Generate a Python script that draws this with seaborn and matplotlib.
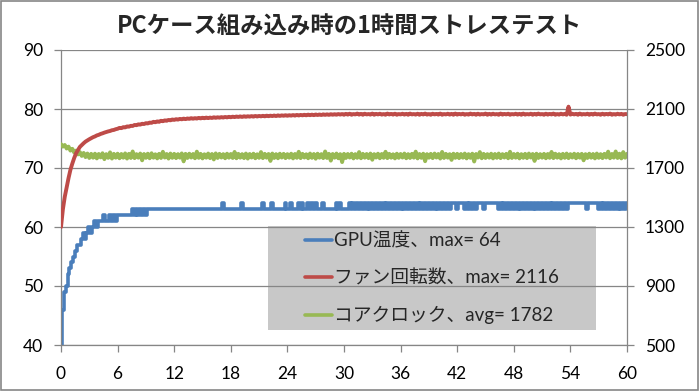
"""PCケース組み込み時の1時間ストレステスト: GPU温度 / ファン回転数 / コアクロック."""
import matplotlib

matplotlib.use("Agg")
import matplotlib.pyplot as plt
import numpy as np
import seaborn as sns
from matplotlib.lines import Line2D
from matplotlib.patches import Rectangle

TITLE = "PCケース組み込み時の1時間ストレステスト"
SAMPLE_MIN = 0.2  # サンプリング間隔 (分)

X_TICKS = list(range(0, 61, 6))
LEFT_TICKS = [40, 50, 60, 70, 80, 90]
RIGHT_TICKS = [500, 900, 1300, 1700, 2100, 2500]

LABELS = ["GPU温度、max= 64", "ファン回転数、max= 2116", "コアクロック、avg= 1782"]
COLORS = ["#4A7EBB", "#BE4B48", "#98B954"]

# GPU温度 (℃) — 1行 = 6分
gpu_temp = [
    40, 46, 49, 50, 52, 53, 54, 55, 56, 57, 57, 58, 59, 58, 59, 60, 59, 60, 61, 60, 61, 61, 61, 62, 61, 61, 62, 61, 62, 61,
    62, 62, 62, 62, 62, 62, 62, 62, 63, 62, 63, 62, 63, 62, 63, 62, 63, 63, 63, 63, 63, 63, 63, 63, 63, 63, 63, 63, 63, 63,
    63, 63, 63, 63, 63, 63, 63, 63, 63, 63, 63, 63, 63, 63, 63, 63, 63, 63, 63, 63, 63, 63, 63, 63, 63, 63, 64, 63, 63, 63,
    63, 63, 63, 63, 63, 63, 64, 63, 63, 63, 63, 63, 63, 63, 63, 63, 63, 64, 63, 63, 63, 63, 64, 63, 63, 63, 63, 63, 63, 64,
    63, 63, 64, 63, 63, 63, 64, 63, 64, 63, 63, 64, 63, 64, 63, 64, 63, 63, 63, 64, 63, 63, 63, 63, 63, 63, 64, 63, 64, 63,
    63, 63, 63, 64, 63, 64, 63, 64, 63, 64, 63, 64, 63, 64, 63, 64, 63, 64, 63, 64, 63, 64, 63, 64, 63, 64, 63, 64, 63, 64,
    63, 64, 63, 64, 63, 64, 63, 64, 63, 64, 63, 64, 63, 64, 63, 64, 63, 64, 63, 64, 63, 64, 63, 64, 63, 64, 63, 64, 64, 64,
    63, 64, 64, 64, 63, 64, 63, 64, 63, 64, 63, 64, 64, 64, 63, 64, 64, 64, 64, 64, 64, 64, 63, 64, 63, 64, 63, 64, 63, 64,
    63, 64, 63, 64, 63, 64, 63, 64, 63, 64, 63, 64, 63, 64, 63, 64, 63, 64, 63, 64, 63, 64, 63, 64, 63, 64, 63, 64, 63, 64,
    64, 64, 64, 64, 64, 64, 64, 64, 64, 63, 64, 64, 64, 64, 64, 63, 64, 63, 64, 63, 64, 63, 64, 63, 64, 63, 64, 63, 64, 63,
    64,
]

# ファン回転数 (rpm)
fan_rpm = [
    1300, 1420, 1505, 1570, 1632, 1688, 1730, 1768, 1800, 1822, 1843, 1856, 1868, 1879, 1887,
    1895, 1902, 1909, 1914, 1921, 1925, 1931, 1935, 1940, 1944, 1948, 1951, 1956, 1958, 1963,
    1966, 1972, 1970, 1977, 1975, 1982, 1980, 1986, 1985, 1992, 1990, 1996, 1994, 2000, 1998,
    2004, 2002, 2008, 2006, 2013, 2010, 2016, 2013, 2020, 2017, 2023, 2020, 2026, 2023, 2029,
    2026, 2031, 2028, 2033, 2030, 2035, 2031, 2036, 2033, 2038, 2034, 2038, 2035, 2040, 2036,
    2041, 2037, 2042, 2038, 2042, 2039, 2044, 2040, 2044, 2041, 2045, 2042, 2046, 2043, 2047,
    2044, 2048, 2045, 2049, 2046, 2050, 2046, 2051, 2047, 2051, 2048, 2052, 2048, 2053, 2049,
    2053, 2050, 2054, 2050, 2055, 2051, 2055, 2052, 2056, 2052, 2057, 2053, 2057, 2054, 2058,
    2054, 2058, 2055, 2059, 2055, 2060, 2056, 2060, 2057, 2061, 2057, 2062, 2058, 2062, 2058,
    2063, 2059, 2063, 2059, 2064, 2060, 2064, 2060, 2065, 2061, 2065, 2061, 2066, 2062, 2066,
    2061, 2067, 2062, 2068, 2061, 2066, 2063, 2069, 2062, 2067, 2061, 2068, 2063, 2066, 2062,
    2069, 2061, 2067, 2063, 2068, 2062, 2066, 2061, 2069, 2063, 2067, 2062, 2068, 2061, 2066,
    2063, 2068, 2062, 2067, 2061, 2069, 2063, 2066, 2062, 2068, 2061, 2067, 2063, 2069, 2062,
    2066, 2061, 2068, 2063, 2067, 2062, 2069, 2061, 2066, 2063, 2068, 2062, 2067, 2061, 2069,
    2062, 2067, 2063, 2068, 2061, 2066, 2062, 2069, 2063, 2067, 2061, 2068, 2062, 2066, 2063,
    2069, 2061, 2067, 2062, 2068, 2063, 2066, 2061, 2069, 2062, 2067, 2063, 2068, 2061, 2066,
    2063, 2068, 2062, 2067, 2061, 2069, 2062, 2066, 2063, 2068, 2061, 2067, 2062, 2069, 2063,
    2066, 2061, 2068, 2062, 2067, 2063, 2069, 2061, 2066, 2062, 2068, 2063, 2067, 2061, 2116,
    2062, 2068, 2063, 2067, 2061, 2069, 2062, 2066, 2063, 2068, 2061, 2067, 2062, 2069, 2063,
    2066, 2061, 2068, 2062, 2067, 2063, 2069, 2061, 2066, 2062, 2068, 2063, 2067, 2061, 2066,
    2065,
]

# コアクロック (MHz)
core_clock = [
    1862, 1845, 1856, 1832, 1845, 1818, 1830, 1805, 1818, 1792, 1808, 1782, 1802, 1774, 1798,
    1768, 1796, 1770, 1797, 1765, 1795, 1772, 1800, 1760, 1794, 1769, 1806, 1764, 1796, 1770,
    1797, 1766, 1795, 1770, 1799, 1764, 1796, 1768, 1812, 1767, 1794, 1770, 1798, 1752, 1795,
    1769, 1797, 1766, 1800, 1770, 1793, 1765, 1796, 1768, 1810, 1771, 1795, 1764, 1798, 1769,
    1796, 1767, 1794, 1770, 1799, 1745, 1796, 1768, 1797, 1771, 1795, 1766, 1811, 1769, 1796,
    1765, 1793, 1770, 1798, 1767, 1795, 1758, 1799, 1768, 1796, 1771, 1794, 1766, 1797, 1770,
    1795, 1768, 1809, 1766, 1796, 1770, 1794, 1767, 1798, 1764, 1795, 1771, 1797, 1766, 1793,
    1769, 1808, 1767, 1796, 1770, 1795, 1748, 1798, 1768, 1794, 1766, 1797, 1771, 1796, 1767,
    1794, 1770, 1797, 1765, 1795, 1769, 1810, 1767, 1796, 1771, 1793, 1766, 1798, 1769, 1795,
    1763, 1797, 1770, 1794, 1767, 1812, 1768, 1796, 1750, 1795, 1770, 1798, 1766, 1794, 1740,
    1796, 1768, 1795, 1771, 1797, 1765, 1794, 1769, 1808, 1766, 1796, 1770, 1795, 1767, 1798,
    1756, 1794, 1771, 1797, 1766, 1795, 1769, 1810, 1767, 1796, 1770, 1793, 1765, 1797, 1769,
    1795, 1771, 1798, 1766, 1794, 1768, 1796, 1770, 1811, 1765, 1795, 1769, 1797, 1746, 1794,
    1770, 1796, 1767, 1798, 1771, 1795, 1764, 1809, 1768, 1796, 1770, 1794, 1755, 1797, 1769,
    1796, 1767, 1795, 1770, 1798, 1765, 1794, 1769, 1797, 1744, 1795, 1771, 1808, 1766, 1796,
    1768, 1794, 1770, 1797, 1765, 1795, 1769, 1798, 1767, 1794, 1771, 1796, 1766, 1810, 1768,
    1795, 1770, 1797, 1765, 1794, 1769, 1796, 1767, 1798, 1771, 1795, 1748, 1797, 1768, 1794,
    1770, 1796, 1766, 1795, 1769, 1809, 1767, 1797, 1770, 1794, 1765, 1796, 1769, 1798, 1767,
    1794, 1771, 1797, 1766, 1795, 1770, 1796, 1752, 1794, 1768, 1797, 1770, 1795, 1765, 1798,
    1769, 1794, 1767, 1796, 1771, 1811, 1766, 1795, 1770, 1812, 1768, 1797, 1765, 1808, 1770,
    1796,
]

GRAY = "#868686"
FONT = ["Lato", "Noto Sans CJK JP", "DejaVu Sans"]

sns.set_theme(style="white")
plt.rcParams["font.family"] = FONT

fig = plt.figure(figsize=(6.99, 3.91), dpi=100)
ax = fig.add_axes([61 / 699, 46 / 391, 566 / 699, 295 / 391])
ax2 = ax.twinx()

t_gpu = np.arange(len(gpu_temp)) * SAMPLE_MIN
t_fan = np.arange(len(fan_rpm)) * SAMPLE_MIN
t_clk = np.arange(len(core_clock)) * SAMPLE_MIN

# 凡例の背景 (グリッド線より下)
ax.add_patch(Rectangle((0.3657, 0.0508), 0.5795, 0.3525, transform=ax.transAxes,
                       facecolor="#C8C8C8", edgecolor="none", zorder=0.3))

# 温度は整数値なので階段状に描く
sns.lineplot(x=t_gpu, y=gpu_temp, ax=ax, color=COLORS[0], linewidth=2.6,
             estimator=None, sort=False, legend=False, drawstyle="steps-mid")
sns.lineplot(x=t_clk, y=core_clock, ax=ax2, color=COLORS[2], linewidth=2.8,
             estimator=None, sort=False, legend=False)
sns.lineplot(x=t_fan, y=fan_rpm, ax=ax2, color=COLORS[1], linewidth=2.8,
             estimator=None, sort=False, legend=False)

ax.set_xlim(0, 60); ax.set_ylim(40, 90)
ax2.set_ylim(500, 2500)
ax.set_xticks(X_TICKS); ax.set_yticks(LEFT_TICKS); ax2.set_yticks(RIGHT_TICKS)
ax.set_xlabel(""); ax.set_ylabel(""); ax2.set_ylabel("")

ax.set_axisbelow(True)
ax.yaxis.grid(True, color=GRAY, linewidth=0.9)
ax.xaxis.grid(False)
ax2.grid(False)

for a in (ax, ax2):
    for s in a.spines.values():
        s.set_visible(False)
ax.spines["left"].set_visible(True); ax.spines["bottom"].set_visible(True)
ax2.spines["right"].set_visible(True)
for s in (ax.spines["left"], ax.spines["bottom"], ax2.spines["right"]):
    s.set_color(GRAY); s.set_linewidth(0.9)

tick_kw = dict(direction="out", length=5, width=0.9, color=GRAY, labelsize=12.5,
               labelcolor="black", pad=8)
ax.tick_params(axis="y", left=True, **tick_kw)
ax.tick_params(axis="x", bottom=True, **{**tick_kw, "pad": 10})
ax2.tick_params(axis="y", right=True, **tick_kw)

fig.text(0.5, 0.931, TITLE, ha="center", va="center", fontsize=16.8,
         fontweight="bold", family=["Noto Sans CJK JP", "DejaVu Sans"])

handles = [Line2D([], [], color=c, linewidth=2.6) for c in COLORS]
ax2.legend(handles, LABELS, loc="upper left", bbox_to_anchor=(0.431, 0.382),
           frameon=False, handlelength=1.45, handletextpad=0.1, labelspacing=1.05,
           borderpad=0, borderaxespad=0, prop={"size": 13.5, "family": FONT})

fig.patches.append(Rectangle((0.001, 0.002), 0.998, 0.996, transform=fig.transFigure,
                             fill=False, edgecolor=GRAY, linewidth=1.2))

fig.savefig("out.png", dpi=100)
